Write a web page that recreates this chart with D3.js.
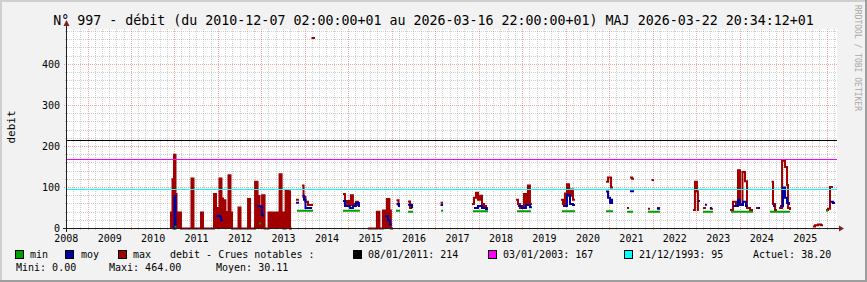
<!DOCTYPE html>
<html>
<head>
<meta charset="utf-8">
<script src="https://cdn.jsdelivr.net/npm/d3@7"></script>
<style>
body { margin: 0; background: #fff; }
svg text { font-family: "DejaVu Sans Mono", monospace; fill: #000; }
</style>
</head>
<body>
<div id="app"></div>
<script>
// times are decimal years, null = no data (gap)
let maxSeries = [
  [2010.886,39],[2010.944,120],[2010.978,180],[2011.013,84],[2011.036,39],[2011.139,0],
  [2011.381,122],[2011.427,0],[2011.600,39],[2011.646,0],
  [2011.899,84],[2011.945,50],[2012.025,122],[2012.071,73],[2012.106,69],[2012.163,40],
  [2012.232,130],[2012.278,39],[2012.313,0],[2012.462,51],[2012.508,0],[2012.681,72],[2012.727,0],
  [2012.842,114],[2012.899,79],[2012.945,55],[2013.003,81],[2013.060,0],[2013.152,39],
  [2013.406,132],[2013.452,39],[2013.498,0],[2013.544,93],[2013.601,91],[2013.647,0],[2013.693,0], null,
  [2013.784,70],[2013.853,70], null,
  [2013.922,105],[2013.957,77],[2014.002,65],[2014.060,57],[2014.152,55], null,
  [2014.140,464],[2014.221,464], null,
  [2014.865,84],[2014.911,60],[2014.957,67],[2015.002,57],[2015.048,81],[2015.094,60],[2015.163,65],[2015.209,57],[2015.255,57], null,
  [2015.439,0],[2015.646,41],[2015.704,0],[2015.784,44],[2015.876,72],[2015.934,44],[2015.968,0],[2016.016,0], null,
  [2016.097,69],[2016.143,57],[2016.177,57], null,
  [2016.361,66],[2016.407,50],[2016.453,50], null,
  [2017.108,63],[2017.166,63], null,
  [2017.832,60],[2017.878,75],[2017.924,87],[2017.970,70],[2018.016,80],[2018.062,60],[2018.108,55],[2018.154,50],[2018.200,50], null,
  [2018.844,70],[2018.890,60],[2018.936,50],[2019.028,84],[2019.074,60],[2019.120,105],[2019.166,60],[2019.212,60], null,
  [2019.880,70],[2019.926,60],[2019.972,85],[2020.018,108],[2020.064,80],[2020.110,95],[2020.156,70],[2020.202,70], null,
  [2020.915,114],[2020.961,124],[2021.030,100],[2021.076,100], null,
  [2021.398,50],[2021.444,50], null,
  [2021.467,124],[2021.513,121],[2021.559,121], null,
  [2021.880,48],[2021.926,48], null,
  [2021.961,118],[2022.018,118], null,
  [2022.087,50],[2022.156,50], null,
  [2022.915,45],[2022.961,114],[2023.007,90],[2023.030,45],[2023.053,45], null,
  [2023.145,50],[2023.214,50], null,
  [2023.306,48],[2023.375,48], null,
  [2023.768,45],[2023.837,65],[2023.906,55],[2023.952,142],[2023.998,60],[2024.055,138],[2024.113,115],[2024.159,50],[2024.228,45],[2024.297,45], null,
  [2024.366,50],[2024.435,50], null,
  [2024.722,114],[2024.756,60],[2024.802,45],[2024.848,45], null,
  [2024.894,50],[2024.963,165],[2025.032,150],[2025.078,106],[2025.101,50],[2025.147,45], null,
  [2025.676,5],[2025.722,8],[2025.791,10],[2025.860,8],[2025.906,8], null,
  [2025.975,45],[2026.021,48],[2026.067,101],[2026.136,101]
]

let moySeries = [
  [2010.944,0],[2010.990,79],[2011.013,0],[2011.036,0], null,
  [2011.945,30],[2012.060,20],[2012.106,20], null,
  [2012.888,54],[2012.957,54],[2013.003,32],[2013.049,32], null,
  [2013.784,63],[2013.853,63], null,
  [2013.934,80],[2013.968,70],[2014.002,50],[2014.152,50], null,
  [2014.865,67],[2014.911,55],[2015.025,50],[2015.094,55],[2015.163,62],[2015.232,55],[2015.255,55], null,
  [2015.830,30],[2015.899,20],[2015.945,10],[2015.991,10], null,
  [2016.097,60],[2016.154,55],[2016.177,55], null,
  [2016.361,58],[2016.453,52],[2016.476,52], null,
  [2017.108,57],[2017.166,57], null,
  [2017.878,50],[2017.970,55],[2018.062,50],[2018.154,47],[2018.200,47], null,
  [2018.890,55],[2018.982,50],[2019.074,57],[2019.166,52],[2019.212,52], null,
  [2019.926,55],[2020.018,82],[2020.087,60],[2020.156,57],[2020.202,57], null,
  [2020.915,90],[2020.961,75],[2021.007,62],[2021.053,70],[2021.076,70], null,
  [2021.467,91],[2021.559,91], null,
  [2022.087,48],[2022.156,48], null,
  [2023.030,67],[2023.076,67], null,
  [2023.191,58],[2023.237,58], null,
  [2023.306,50],[2023.352,50], null,
  [2023.837,55],[2023.952,70],[2023.998,57],[2024.067,65],[2024.136,55],[2024.182,55], null,
  [2024.412,50],[2024.458,50], null,
  [2024.756,55],[2024.802,55], null,
  [2024.917,55],[2024.986,100],[2025.032,75],[2025.078,62],[2025.124,60],[2025.147,60], null,
  [2026.067,65],[2026.136,62],[2026.182,62]
]

let minSeries = [
  [2010.990,4],[2011.036,4], null,
  [2012.934,12],[2012.980,12], null,
  [2013.807,43],[2014.175,43], null,
  [2014.865,43],[2015.255,43], null,
  [2016.085,43],[2016.177,43], null,
  [2016.361,41],[2016.476,41], null,
  [2017.120,43],[2017.166,43], null,
  [2017.855,42],[2018.200,42], null,
  [2018.867,42],[2019.189,42], null,
  [2019.903,42],[2020.202,42], null,
  [2020.915,42],[2021.076,42], null,
  [2021.398,41],[2021.536,41], null,
  [2021.880,41],[2022.156,41], null,
  [2023.145,41],[2023.375,41], null,
  [2023.791,41],[2024.297,41], null,
  [2024.687,41],[2025.147,41], null,
  [2025.975,43],[2026.021,43]
]

let crueDates = ["08/01/2011", "03/01/2003", "21/12/1993"]
let crueValues = [214, 167, 95]
let crueColors = ["#000000", "#ff00ff", "#00ffff"]

let seriesNames = ["min", "moy", "max"]
let seriesColors = ["#00a000", "#0000a0", "#a00000"]

let yTicks = [0, 100, 200, 300, 400]
let yearLabels = d3.range(2008, 2026)

let stats = {mini: "0.00", maxi: "464.00", moyen: "30.11", actuel: "38.20"}
let title = "N° 997 - débit (du 2010-12-07 02:00:00+01 au 2026-03-16 22:00:00+01) MAJ 2026-03-22 20:34:12+01"

// decimal year -> Date
function yd(v) {
    let Y = Math.floor(v)
    let s = new Date(Y, 0, 1), e = new Date(Y + 1, 0, 1)
    return new Date(+s + (v - Y) * (e - s))
}

// split a series on its null gaps
function segments(s) {
    let out = [], cur = []
    s.forEach(d => {
        if (d === null) { if (cur.length) out.push(cur); cur = [] }
        else cur.push(d)
    })
    if (cur.length) out.push(cur)
    return out
}

let width = 867, height = 282
let pLeft = 67, pRight = 837, pTop = 29, pBottom = 228

let svg = d3.select("#app").append("svg")
    .attr("width", width)
    .attr("height", height)

svg.append("rect").attr("width", width).attr("height", height).attr("fill", "#f2f2f2")
svg.append("line").attr("x1", 0).attr("x2", width).attr("y1", 1).attr("y2", 1).attr("stroke", "#cfcfcf").attr("stroke-width", 2)
svg.append("line").attr("x1", 1).attr("x2", 1).attr("y1", 0).attr("y2", height).attr("stroke", "#cfcfcf").attr("stroke-width", 2)
svg.append("line").attr("x1", 0).attr("x2", width).attr("y1", height - 1).attr("y2", height - 1).attr("stroke", "#9e9e9e").attr("stroke-width", 2)
svg.append("line").attr("x1", width - 1).attr("x2", width - 1).attr("y1", 0).attr("y2", height).attr("stroke", "#9e9e9e").attr("stroke-width", 2)

svg.append("rect")
    .attr("x", pLeft).attr("y", pTop)
    .attr("width", pRight - pLeft).attr("height", pBottom - pTop)
    .attr("fill", "#ffffff")

let x = d3.scaleTime()
    .domain([yd(2008.517), yd(2026.205)])
    .range([pLeft, 836])
let y = d3.scaleLinear()
    .domain([0, 485])
    .range([pBottom + 0.5, pTop + 0.5])

let px = v => Math.round(v - 0.5) + 0.5

// grid
let grid = svg.append("g")
let minorY = d3.range(20, 485, 20).filter(v => v % 100 !== 0)
grid.selectAll(".hmin").data(minorY).enter().append("line")
    .attr("x1", pLeft - 2).attr("x2", pRight)
    .attr("y1", d => px(y(d))).attr("y2", d => px(y(d)))
    .attr("stroke", "rgba(143,143,143,0.42)").attr("stroke-dasharray", "1,1")
grid.selectAll(".hmaj").data(yTicks.filter(v => v > 0)).enter().append("line")
    .attr("x1", pLeft - 3).attr("x2", pRight)
    .attr("y1", d => px(y(d))).attr("y2", d => px(y(d)))
    .attr("stroke", "rgba(222,79,79,0.5)").attr("stroke-dasharray", "1,1")

let minorX = d3.timeMonth.every(2).range(x.domain()[0], x.domain()[1]).filter(d => d.getMonth() !== 0)
grid.selectAll(".vmin").data(minorX).enter().append("line")
    .attr("x1", d => px(x(d))).attr("x2", d => px(x(d)))
    .attr("y1", pTop).attr("y2", pBottom + 2)
    .attr("stroke", "rgba(143,143,143,0.42)").attr("stroke-dasharray", "1,1")
let majorX = d3.timeYear.range(x.domain()[0], x.domain()[1])
grid.selectAll(".vmaj").data(majorX).enter().append("line")
    .attr("x1", d => px(x(d))).attr("x2", d => px(x(d)))
    .attr("y1", pTop).attr("y2", pBottom + 3)
    .attr("stroke", "rgba(222,79,79,0.5)").attr("stroke-dasharray", "1,1")

// series
let line = d3.line()
    .defined(d => d !== null)
    .x(d => x(yd(d[0])))
    .y(d => y(d[1]))
    .curve(d3.curveStepAfter)

let area = d3.area()
    .x(d => x(yd(d[0])))
    .y0(y(0))
    .y1(d => y(d[1]))
    .curve(d3.curveStepAfter)

let plot = svg.append("g")

// dense stretches that come back to zero render as solid blocks
plot.selectAll(".maxfill")
    .data(segments(maxSeries).filter(s => d3.min(s, d => d[1]) === 0))
    .enter().append("path")
    .attr("d", area)
    .attr("fill", seriesColors[2])

;[maxSeries, moySeries, minSeries].forEach((s, i) => {
    plot.append("path")
        .datum(s)
        .attr("d", line)
        .attr("fill", "none")
        .attr("stroke", seriesColors[2 - i])
        .attr("stroke-width", 2)
})

// reference floods
svg.selectAll(".crue").data(crueValues).enter().append("line")
    .attr("x1", pLeft).attr("x2", pRight)
    .attr("y1", d => px(y(d))).attr("y2", d => px(y(d)))
    .attr("stroke", (d, i) => crueColors[i])
    .attr("stroke-width", 1)

// axes
svg.append("line").attr("x1", pLeft - 4).attr("x2", pRight + 3)
    .attr("y1", px(y(0))).attr("y2", px(y(0))).attr("stroke", "#1f1f1f")
svg.append("line").attr("x1", pLeft - 0.5).attr("x2", pLeft - 0.5)
    .attr("y1", pBottom + 4).attr("y2", pTop - 5).attr("stroke", "#1f1f1f")
svg.append("path").attr("d", `M${pLeft - 3.5},26L${pLeft + 2.5},26L${pLeft - 0.5},20Z`).attr("fill", "#801f1f")
svg.append("path").attr("d", `M${pRight + 2},${px(y(0)) - 3}L${pRight + 2},${px(y(0)) + 3}L${pRight + 7},${px(y(0))}Z`).attr("fill", "#801f1f")

svg.selectAll(".ylab").data(yTicks).enter().append("text")
    .attr("x", 60).attr("y", d => y(d))
    .attr("dy", "0.35em")
    .attr("text-anchor", "end")
    .attr("font-size", 10)
    .text(d => d)

svg.selectAll(".xlab").data(yearLabels).enter().append("text")
    .attr("x", d => x(new Date(d, 6, 2)))
    .attr("y", 241.5)
    .attr("text-anchor", "middle")
    .attr("font-size", 10)
    .text(d => d)

svg.append("text")
    .attr("transform", "translate(14.5,127) rotate(-90)")
    .attr("text-anchor", "middle")
    .attr("font-size", 11)
    .text("debit")

svg.append("text")
    .attr("x", width / 2).attr("y", 24.5)
    .attr("text-anchor", "middle")
    .attr("font-size", 13.3)
    .text(title)

svg.append("text")
    .attr("transform", "translate(855,5) rotate(90)")
    .attr("font-size", 8)
    .style("fill", "#a8a8a8")
    .text("RRDTOOL / TOBI OETIKER")

// legend
let legend = svg.append("g").attr("font-size", 10)
let boxX = [15, 65, 118], textX = [30, 81, 133]
seriesNames.forEach((n, i) => {
    legend.append("rect").attr("x", boxX[i] + 0.5).attr("y", 250.5).attr("width", 8).attr("height", 8)
        .attr("fill", seriesColors[i]).attr("stroke", "#000")
    legend.append("text").attr("x", textX[i]).attr("y", 258).text(n)
})
legend.append("text").attr("x", 170).attr("y", 258).text("debit - Crues notables :")
let crueBoxX = [353, 488, 624]
crueDates.forEach((d, i) => {
    legend.append("rect").attr("x", crueBoxX[i] + 0.5).attr("y", 250.5).attr("width", 8).attr("height", 8)
        .attr("fill", crueColors[i]).attr("stroke", "#000")
    legend.append("text").attr("x", crueBoxX[i] + 15).attr("y", 258).text(d + ": " + crueValues[i])
})
legend.append("text").attr("x", 753).attr("y", 258).text("Actuel: " + stats.actuel)
legend.append("text").attr("x", 16).attr("y", 271).text("Mini: " + stats.mini)
legend.append("text").attr("x", 109).attr("y", 271).text("Maxi: " + stats.maxi)
legend.append("text").attr("x", 216).attr("y", 271).text("Moyen: " + stats.moyen)
</script>
</body>
</html>
